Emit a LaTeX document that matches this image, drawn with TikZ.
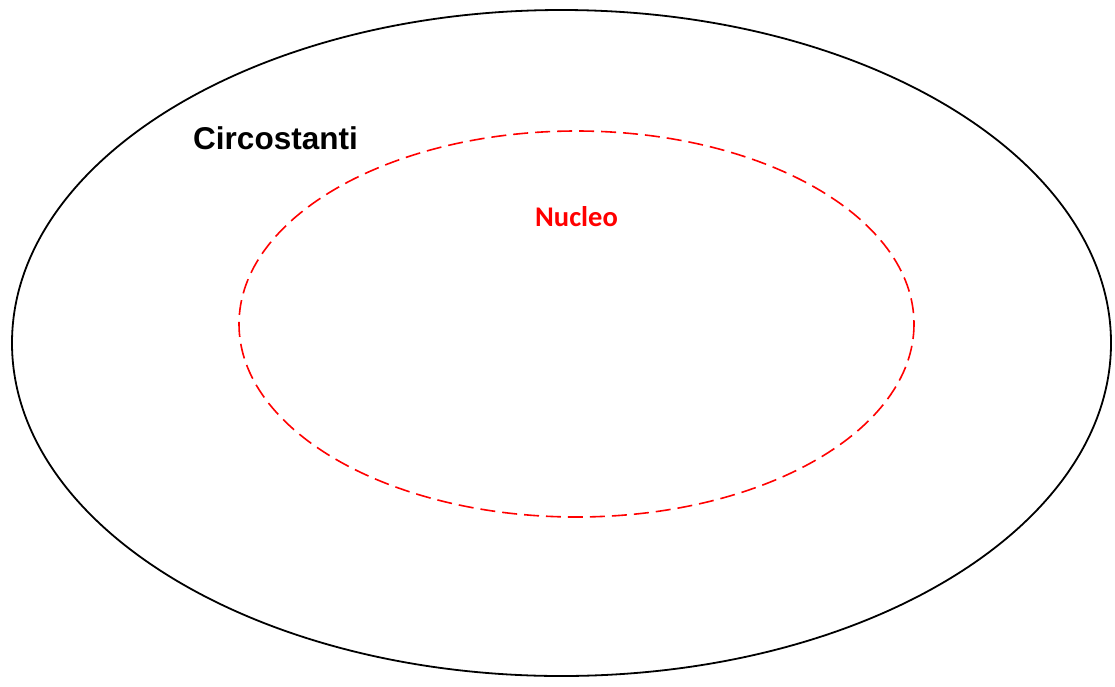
\documentclass[tikz,border=0pt]{standalone}
\usepackage{fontspec}
\setmainfont{Liberation Sans}
\newfontfamily\calib{Carlito}
\begin{document}
\begin{tikzpicture}[x=1pt,y=-1pt,
  outerell/.style={draw=black,line width=1.8pt},
  innerell/.style={draw=red,line width=1.6pt,dash pattern=on 15pt off 7pt},
  lbl/.style={inner sep=0pt,anchor=center}]
\useasboundingbox (0,0) rectangle (1115,686);
\draw[outerell] (561.5,343) ellipse [x radius=549.5, y radius=333];
\draw[innerell] (576.5,324) ellipse [x radius=337.5, y radius=193];
\node[lbl] (circ) at (275.5,138) {\fontsize{31.5}{36}\selectfont\bfseries Circostanti};
\node[lbl,text=red] (nucl) at (576.5,217) {\calib\fontsize{28.5}{33}\selectfont\bfseries Nucleo};
\end{tikzpicture}
\end{document}
